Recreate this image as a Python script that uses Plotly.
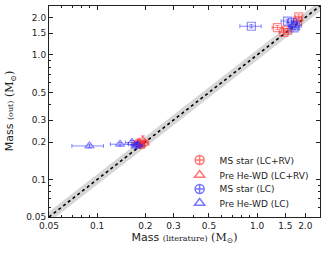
import plotly.graph_objects as go

# MS star (LC+RV) - red squares
ms_rv_lit = [1.34, 1.47, 1.55, 1.79, 1.82]
ms_rv_out = [1.66, 1.52, 1.58, 1.87, 2.02]
ms_rv_xerr = [0.10, 0.10, 0.08, 0.10, 0.08]
ms_rv_yerr = [0.06, 0.06, 0.05, 0.07, 0.08]

# Pre He-WD (LC+RV) - red triangles
wd_rv_lit = [0.175, 0.183, 0.188, 0.193, 0.198, 0.186]
wd_rv_out = [0.195, 0.200, 0.190, 0.206, 0.196, 0.185]
wd_rv_xerr = [0.010, 0.012, 0.010, 0.015, 0.012, 0.010]
wd_rv_yerr = [0.008, 0.010, 0.008, 0.018, 0.010, 0.008]

# MS star (LC) - blue squares
ms_lc_lit = [0.92, 1.55, 1.66, 1.74, 1.70]
ms_lc_out = [1.70, 1.87, 1.82, 1.71, 1.65]
ms_lc_xerr = [0.14, 0.14, 0.12, 0.15, 0.12]
ms_lc_yerr = [0.05, 0.06, 0.06, 0.06, 0.05]

# Pre He-WD (LC) - blue triangles
wd_lc_lit = [0.0895, 0.139, 0.165, 0.175, 0.180]
wd_lc_out = [0.186, 0.192, 0.198, 0.186, 0.190]
wd_lc_xerr = [0.020, 0.018, 0.015, 0.012, 0.012]
wd_lc_yerr = [0.006, 0.006, 0.008, 0.008, 0.008]

one_to_one = [0.05, 2.5]
band_factor = 1.10

x_ticks = [0.05, 0.1, 0.2, 0.3, 0.5, 1.0, 1.5, 2.0]
x_tick_labels = ["0.05", "0.1", "0.2", "0.3", "0.5", "1.0", "1.5", "2.0"]
minor_vals = [0.06, 0.07, 0.08, 0.09, 0.4, 0.6, 0.7, 0.8, 0.9]

RED = "rgba(255,40,40,0.55)"
BLUE = "rgba(40,40,255,0.55)"
RED_L = "rgba(255,60,60,0.7)"
BLUE_L = "rgba(60,60,255,0.7)"

fig = go.Figure()

# gray band
fig.add_trace(go.Scatter(x=one_to_one, y=[v / band_factor for v in one_to_one], mode="lines",
                         line=dict(width=0), showlegend=False, hoverinfo="skip"))
fig.add_trace(go.Scatter(x=one_to_one, y=[v * band_factor for v in one_to_one], mode="lines",
                         line=dict(width=0), fill="tonexty", fillcolor="rgba(200,200,200,0.75)",
                         showlegend=False, hoverinfo="skip"))
fig.add_trace(go.Scatter(x=one_to_one, y=one_to_one, mode="lines",
                         line=dict(color="black", width=1.6, dash="dot"), showlegend=False))


def add_data(x, y, xe, ye, color, symbol):
    fig.add_trace(go.Scatter(
        x=x, y=y, mode="markers", showlegend=False,
        marker=dict(symbol=symbol, size=8, color=color, line=dict(color=color, width=1.2)),
        error_x=dict(type="data", array=xe, color=color, thickness=1, width=2),
        error_y=dict(type="data", array=ye, color=color, thickness=1, width=2),
    ))


add_data(ms_rv_lit, ms_rv_out, ms_rv_xerr, ms_rv_yerr, RED, "square-open")
add_data(wd_rv_lit, wd_rv_out, wd_rv_xerr, wd_rv_yerr, RED, "triangle-up-open")
add_data(ms_lc_lit, ms_lc_out, ms_lc_xerr, ms_lc_yerr, BLUE, "square-open")
add_data(wd_lc_lit, wd_lc_out, wd_lc_xerr, wd_lc_yerr, BLUE, "triangle-up-open")

legend_items = [
    ("MS star (LC+RV)", RED_L, "circle-cross-open"),
    ("Pre He-WD (LC+RV)", RED_L, "triangle-up-open"),
    ("MS star (LC)", BLUE_L, "circle-cross-open"),
    ("Pre He-WD (LC)", BLUE_L, "triangle-up-open"),
]
legend_ids = ["legend", "legend2", "legend3", "legend4"]
legend_rows_y = [0.270, 0.199, 0.133, 0.066]

for (name, color, sym), lid in zip(legend_items, legend_ids):
    fig.add_trace(go.Scatter(x=[None], y=[None], mode="markers", name=name, legend=lid,
                             marker=dict(symbol=sym, size=9, color=color,
                                         line=dict(color=color, width=1.5))))

axis_common = dict(
    type="log", range=[-1.30103, 0.393], automargin=False,
    showgrid=False, zeroline=False, showline=True, linecolor="#222", linewidth=1,
    mirror="ticks", ticks="inside", ticklen=4, tickcolor="#222",
    tickvals=x_ticks, ticktext=x_tick_labels,
    tickfont=dict(family="DejaVu Sans", size=9, color="#222"),
    minor=dict(ticks="inside", ticklen=2, tickvals=minor_vals, tickcolor="#222", showgrid=False),
)

fig.update_xaxes(**axis_common,
                 title=dict(text="Mass <span style='font-family:DejaVu Serif;font-size:8px'>(literature)</span> <span style='font-family:DejaVu Serif'>(M<sub>⊙</sub>)</span>",
                            font=dict(family="DejaVu Sans", size=11, color="#222"), standoff=2))
fig.update_yaxes(**axis_common)

fig.add_annotation(
    text="Mass <span style='font-family:DejaVu Serif;font-size:8px'>(out)</span> <span style='font-family:DejaVu Serif'>(M<sub>⊙</sub>)</span>",
    xref="paper", yref="paper", x=-0.145, y=0.5, xanchor="center", yanchor="middle",
    textangle=-90, showarrow=False, font=dict(family="DejaVu Sans", size=11, color="#222"),
)

legend_style = dict(xanchor="left", yanchor="middle", traceorder="normal",
                    font=dict(family="DejaVu Sans", size=9, color="#222"),
                    bgcolor="rgba(0,0,0,0)", itemwidth=30)
layout_legends = {lid: dict(x=0.482, y=ly, **legend_style) for lid, ly in zip(legend_ids, legend_rows_y)}

fig.update_layout(
    width=328, height=258,
    margin=dict(l=49, r=8, t=6, b=41),
    plot_bgcolor="white", paper_bgcolor="white",
    **layout_legends,
)

fig.write_html("out.html", config={"displayModeBar": False},
               post_script="document.body.style.margin='0';")
